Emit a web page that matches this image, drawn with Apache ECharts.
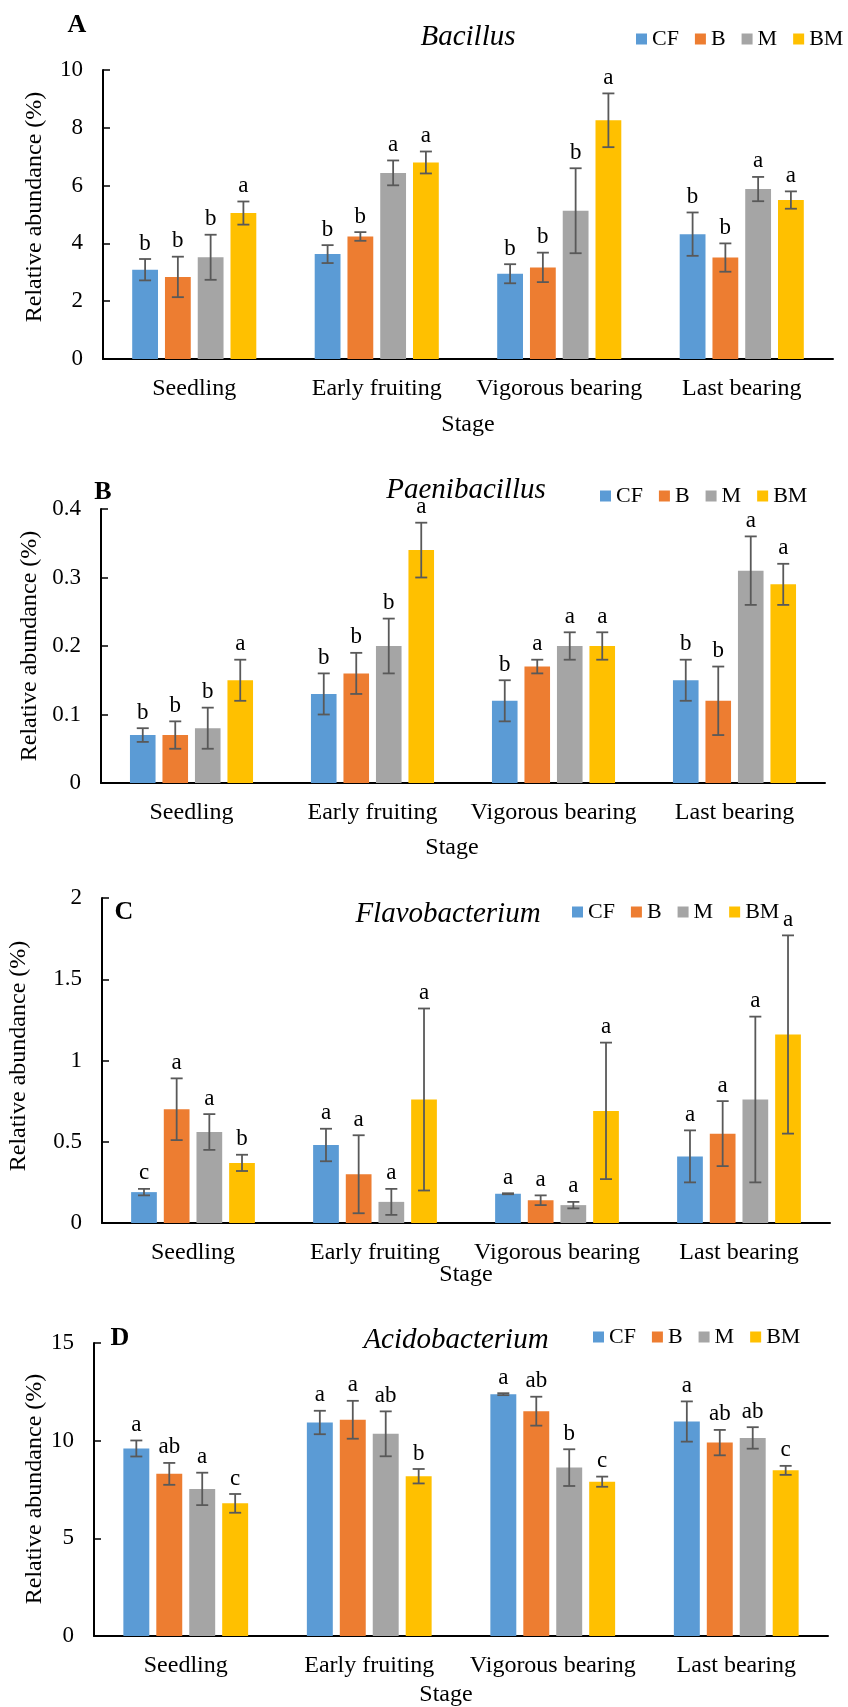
<!DOCTYPE html>
<html>
<head>
<meta charset="utf-8">
<style>
  html, body { margin: 0; padding: 0; background: #fff; }
  #chart { width: 848px; height: 1707px; }
</style>
</head>
<body>
<div id="chart"></div>
<script src="https://cdn.jsdelivr.net/npm/echarts@6.0.0/dist/echarts.min.js"></script>
<script>
// categories and treatments
const stages = ["Seedling", "Early fruiting", "Vigorous bearing", "Last bearing"];
const treatments = ["CF", "B", "M", "BM"];

// rows: CF, B, M, BM ; columns: stages
const bacillusMean = [[3.09, 3.63, 2.95, 4.32], [2.84, 4.24, 3.17, 3.51], [3.52, 6.44, 5.13, 5.88], [5.05, 6.80, 8.26, 5.50]];
const bacillusErr = [[0.37, 0.31, 0.33, 0.75], [0.70, 0.15, 0.51, 0.49], [0.78, 0.43, 1.47, 0.42], [0.40, 0.38, 0.93, 0.30]];
const bacillusLetters = [["b", "b", "b", "b"], ["b", "b", "b", "b"], ["b", "a", "b", "a"], ["a", "a", "a", "a"]];

const paeniMean = [[0.07, 0.13, 0.12, 0.15], [0.07, 0.16, 0.17, 0.12], [0.08, 0.20, 0.20, 0.31], [0.15, 0.34, 0.20, 0.29]];
const paeniErr = [[0.01, 0.03, 0.03, 0.03], [0.02, 0.03, 0.01, 0.05], [0.03, 0.04, 0.02, 0.05], [0.03, 0.04, 0.02, 0.03]];
const paeniLetters = [["b", "b", "b", "b"], ["b", "b", "a", "b"], ["b", "b", "a", "a"], ["a", "a", "a", "a"]];

const flavoMean = [[0.19, 0.48, 0.18, 0.41], [0.70, 0.30, 0.14, 0.55], [0.56, 0.13, 0.11, 0.76], [0.37, 0.76, 0.69, 1.16]];
const flavoErr = [[0.02, 0.10, 0.003, 0.16], [0.19, 0.24, 0.03, 0.20], [0.11, 0.08, 0.02, 0.51], [0.05, 0.56, 0.42, 0.61]];
const flavoLetters = [["c", "a", "a", "a"], ["a", "a", "a", "a"], ["a", "a", "a", "a"], ["b", "a", "a", "a"]];

const acidoMean = [[9.60, 10.93, 12.38, 10.98], [8.30, 11.07, 11.51, 9.90], [7.53, 10.35, 8.62, 10.14], [6.79, 8.18, 7.90, 8.48]];
const acidoErr = [[0.41, 0.60, 0.05, 1.03], [0.56, 0.97, 0.74, 0.65], [0.83, 1.15, 0.94, 0.55], [0.48, 0.37, 0.26, 0.23]];
const acidoLetters = [["a", "a", "a", "a"], ["ab", "a", "ab", "ab"], ["a", "ab", "b", "ab"], ["c", "b", "c", "c"]];

const colors = ["#5B9BD5", "#ED7D31", "#A5A5A5", "#FFC000"];
const FONT = '"Liberation Serif", "Times New Roman", serif';
const CAT_GAP = 0.32;
const BAR_GAP = 0.27;

const panels = [
  { tag: "A", name: "Bacillus", mean: bacillusMean, err: bacillusErr, letters: bacillusLetters, max: 10, interval: 2,
    grid: { left: 103, top: 70, width: 730, height: 289 },
    tagPos: [77, 25], titlePos: [468, 37], legendPos: [636, 28], yNamePos: [35, 207], stagePos: [468, 425] },
  { tag: "B", name: "Paenibacillus", mean: paeniMean, err: paeniErr, letters: paeniLetters, max: 0.4, interval: 0.1,
    grid: { left: 101, top: 509, width: 724, height: 274 },
    tagPos: [103, 492], titlePos: [466, 490], legendPos: [600, 485], yNamePos: [30, 646], stagePos: [452, 848] },
  { tag: "C", name: "Flavobacterium", mean: flavoMean, err: flavoErr, letters: flavoLetters, max: 2, interval: 0.5,
    grid: { left: 102, top: 898, width: 728, height: 325 },
    tagPos: [124, 912], titlePos: [448, 914], legendPos: [572, 901], yNamePos: [19, 1056], stagePos: [466, 1275] },
  { tag: "D", name: "Acidobacterium", mean: acidoMean, err: acidoErr, letters: acidoLetters, max: 15, interval: 5,
    grid: { left: 94, top: 1343, width: 734, height: 293 },
    tagPos: [120, 1338], titlePos: [456, 1340], legendPos: [593, 1326], yNamePos: [35, 1489], stagePos: [446, 1695] }
];

// error bars + significance letters
function errRender(letters) {
  return function (params, api) {
    const s = api.value(0), m = api.value(1), e = api.value(2), t = api.value(3);
    const band = api.size([1, 0])[0];
    const remained = band * (1 - CAT_GAP);
    const bw = remained / (4 + 3 * BAR_GAP);
    const c = api.coord([s, m]);
    const x = c[0] - remained / 2 + bw / 2 + t * bw * (1 + BAR_GAP);
    const yTop = api.coord([s, m + e])[1];
    const yBot = api.coord([s, m - e])[1];
    const cap = 6;
    const st = { stroke: "#595959", lineWidth: 1.8 };
    return {
      type: "group",
      children: [
        { type: "line", shape: { x1: x, y1: yTop, x2: x, y2: yBot }, style: st },
        { type: "line", shape: { x1: x - cap, y1: yTop, x2: x + cap, y2: yTop }, style: st },
        { type: "line", shape: { x1: x - cap, y1: yBot, x2: x + cap, y2: yBot }, style: st },
        { type: "text", x: x, y: yTop - 4,
          style: { text: letters[t][s], font: "23px " + FONT, fill: "#000",
                   align: "center", verticalAlign: "bottom", textAlign: "center", textVerticalAlign: "bottom" } }
      ]
    };
  };
}

function txt(x, y, text, font, rotation) {
  return { type: "text", x: x, y: y, rotation: rotation || 0, silent: true,
           style: { text: text, font: font, fill: "#000",
                    align: "center", verticalAlign: "middle", textAlign: "center", textVerticalAlign: "middle" } };
}

const grids = [], xAxes = [], yAxes = [], series = [], legends = [], graphics = [];

panels.forEach(function (p, i) {
  grids.push(Object.assign({ containLabel: false, outerBoundsMode: "none" }, p.grid));
  xAxes.push({
    type: "category", gridIndex: i, data: stages,
    axisLine: { lineStyle: { color: "#000", width: 2 } },
    axisTick: { inside: true, length: 6, lineStyle: { color: "#000", width: 1.5 } },
    axisLabel: { color: "#000", fontFamily: FONT, fontSize: 24, margin: 18, interval: 0 },
    splitLine: { show: false }
  });
  yAxes.push({
    type: "value", gridIndex: i, min: 0, max: p.max, interval: p.interval,
    axisLine: { show: true, lineStyle: { color: "#000", width: 2 } },
    axisTick: { show: true, inside: true, length: 7, lineStyle: { color: "#000", width: 1.5 } },
    axisLabel: { color: "#000", fontFamily: FONT, fontSize: 23, margin: 20 },
    splitLine: { show: false }
  });
  treatments.forEach(function (name, t) {
    series.push({
      type: "bar", name: name, xAxisIndex: i, yAxisIndex: i,
      data: p.mean[t], itemStyle: { color: colors[t] },
      barCategoryGap: "32%", barGap: "27%"
    });
  });
  const errData = [];
  treatments.forEach(function (name, t) {
    stages.forEach(function (st, s) {
      errData.push([s, p.mean[t][s], p.err[t][s], t]);
    });
  });
  series.push({
    type: "custom", xAxisIndex: i, yAxisIndex: i, data: errData, z: 10, clip: false, silent: true,
    renderItem: errRender(p.letters)
  });
  legends.push({
    data: treatments, left: p.legendPos[0], top: p.legendPos[1], padding: 0,
    icon: "rect", itemWidth: 11, itemHeight: 11, itemGap: 16, selectedMode: false,
    textStyle: { fontFamily: FONT, fontSize: 22, color: "#000" }
  });
  graphics.push(txt(p.tagPos[0], p.tagPos[1], p.tag, "bold 26px " + FONT));
  graphics.push(txt(p.titlePos[0], p.titlePos[1], p.name, "italic 29px " + FONT));
  graphics.push(txt(p.yNamePos[0], p.yNamePos[1], "Relative abundance (%)", "24px " + FONT, Math.PI / 2));
  graphics.push(txt(p.stagePos[0], p.stagePos[1], "Stage", "24px " + FONT));
});

const myChart = echarts.init(document.getElementById("chart"));
myChart.setOption({
  animation: false,
  backgroundColor: "#fff",
  grid: grids,
  xAxis: xAxes,
  yAxis: yAxes,
  legend: legends,
  series: series,
  graphic: graphics
});
</script>
</body>
</html>
